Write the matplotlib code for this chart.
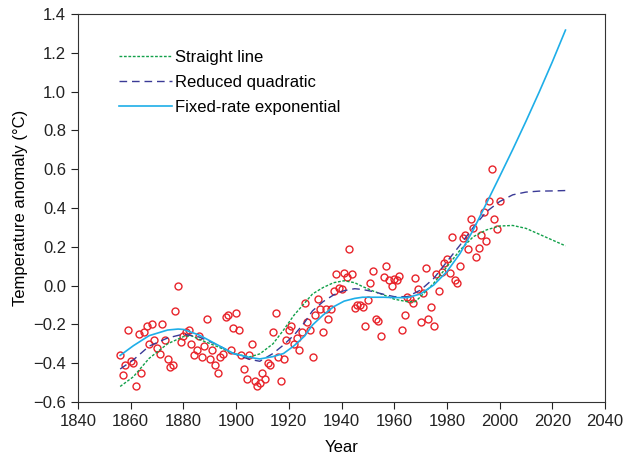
import matplotlib
matplotlib.use("Agg")
import matplotlib.pyplot as plt

plt.rcParams['font.family'] = ['Liberation Sans', 'DejaVu Sans']

# Observed annual temperature anomalies (deg C)
obs_years = list(range(1856, 2001))
obs_values = [
    -0.36, -0.46, -0.41, -0.23,
    -0.39, -0.40, -0.52, -0.25, -0.45, -0.24, -0.21, -0.30, -0.20, -0.28,
    -0.32, -0.35, -0.20, -0.28, -0.38, -0.42, -0.41, -0.13, 0.00, -0.29,
    -0.26, -0.24, -0.23, -0.30, -0.36, -0.33, -0.26, -0.37, -0.31, -0.17,
    -0.38, -0.33, -0.41, -0.45, -0.37, -0.35, -0.16, -0.15, -0.33, -0.22,
    -0.14, -0.23, -0.36, -0.43, -0.48, -0.36, -0.30, -0.49, -0.52, -0.50,
    -0.45, -0.48, -0.40, -0.41, -0.24, -0.14, -0.37, -0.49, -0.38, -0.28,
    -0.23, -0.21, -0.30, -0.27, -0.33, -0.24, -0.09, -0.19, -0.23, -0.37,
    -0.15, -0.07, -0.12, -0.24, -0.12, -0.17, -0.12, -0.03, 0.06, -0.01,
    -0.02, 0.065, 0.046, 0.19, 0.06, -0.115, -0.10, -0.10, -0.11, -0.21,
    -0.074, 0.012, 0.075, -0.17, -0.18, -0.26, 0.044, 0.10, 0.03, -0.004,
    0.036, 0.03, 0.05, -0.23, -0.15, -0.06, -0.07, -0.09, 0.04, -0.02,
    -0.19, -0.04, 0.09, -0.17, -0.11, -0.21, 0.06, -0.03, 0.07, 0.115,
    0.137, 0.063, 0.25, 0.03, 0.012, 0.10, 0.245, 0.26, 0.19, 0.345,
    0.295, 0.147, 0.195, 0.26, 0.38, 0.23, 0.436, 0.60, 0.343, 0.293,
    0.437,
]

# Fitted curves
line_years = [1856, 1861, 1867, 1874, 1880, 1883, 1886, 1893, 1899, 1905, 1909,
              1914, 1918, 1922, 1926, 1929, 1933, 1937, 1941, 1945, 1948, 1952,
              1956, 1960, 1965, 1968, 1970, 1975, 1980, 1985, 1990, 1995, 2000,
              2005, 2010, 2015, 2020, 2025]
line_values = [-0.52, -0.47, -0.375, -0.30, -0.263, -0.258, -0.277, -0.315, -0.35,
               -0.368, -0.352, -0.30, -0.229, -0.152, -0.09, -0.043, -0.01, 0.015,
               0.025, 0.015, -0.005, -0.028, -0.048, -0.07, -0.083, -0.083, -0.057,
               0.012, 0.097, 0.183, 0.252, 0.287, 0.307, 0.31, 0.295, 0.265, 0.235,
               0.205]

quad_years = [1856, 1861, 1867, 1874, 1880, 1886, 1893, 1899, 1905, 1909, 1914,
              1918, 1922, 1926, 1929, 1933, 1937, 1941, 1945, 1948, 1952, 1956,
              1960, 1965, 1970, 1975, 1980, 1985, 1990, 1995, 2000, 2005, 2010,
              2015, 2020, 2025]
quad_values = [-0.43, -0.383, -0.312, -0.27, -0.25, -0.265, -0.306, -0.35, -0.38,
               -0.39, -0.35, -0.306, -0.255, -0.19, -0.13, -0.083, -0.048, -0.026,
               -0.016, -0.02, -0.031, -0.045, -0.057, -0.057, -0.023, 0.037, 0.123,
               0.209, 0.30, 0.381, 0.433, 0.468, 0.482, 0.487, 0.488, 0.49]

exp_years = [1856, 1861, 1867, 1874, 1878, 1880, 1886, 1893, 1899, 1905, 1909,
             1914, 1918, 1922, 1926, 1929, 1933, 1937, 1941, 1945, 1948, 1952,
             1956, 1960, 1965, 1970, 1975, 1980, 1985, 1990, 1995, 2000, 2005,
             2010, 2015, 2020, 2025]
exp_values = [-0.36, -0.31, -0.258, -0.229, -0.224, -0.226, -0.255, -0.306, -0.35,
              -0.37, -0.378, -0.366, -0.35, -0.31, -0.26, -0.203, -0.152, -0.109,
              -0.08, -0.066, -0.06, -0.06, -0.06, -0.062, -0.062, -0.043, 0.003,
              0.072, 0.166, 0.287, 0.424, 0.562, 0.702, 0.847, 0.997, 1.153, 1.317]

x_ticks = list(range(1840, 2041, 20))
y_ticks = [-0.6, -0.4, -0.2, 0.0, 0.2, 0.4, 0.6, 0.8, 1.0, 1.2, 1.4]

fig = plt.figure(figsize=(6.3, 4.55), dpi=100)
ax = fig.add_axes([78 / 630, 1 - 402 / 455, (605 - 78) / 630, (402 - 14) / 455])

ax.plot(obs_years, obs_values, linestyle='none', marker='o', markersize=5,
        markerfacecolor='none', markeredgecolor='#e8242b', markeredgewidth=1.0,
        zorder=2)

ax.plot(line_years, line_values, color='#12a04a', linewidth=1.0,
        linestyle=(0, (2.0, 1.2)), label='Straight line', zorder=3)
ax.plot(quad_years, quad_values, color='#3a3a96', linewidth=1.0,
        linestyle=(0, (5.5, 3.5)), label='Reduced quadratic', zorder=3)
ax.plot(exp_years, exp_values, color='#1eaee8', linewidth=1.2,
        linestyle='-', label='Fixed-rate exponential', zorder=3)

ax.set_xlim(1840, 2040)
ax.set_ylim(-0.6, 1.4)
ax.set_xticks(x_ticks)
ax.set_yticks(y_ticks)
ax.set_yticklabels([f"{v:.1f}".replace('-', '\u2212') for v in y_ticks])
ax.tick_params(direction='out', length=5, width=0.8, labelsize=12,
               colors='#222222', top=False, right=False)
for s in ax.spines.values():
    s.set_linewidth(0.8)
    s.set_color('#333333')

ax.set_xlabel('Year', fontsize=12, labelpad=8)
ax.set_ylabel('Temperature anomaly (\u00b0C)', fontsize=12, labelpad=4)

leg = ax.legend(loc='upper left', bbox_to_anchor=(0.065, 0.925), frameon=False,
                fontsize=12, handlelength=3.2, handletextpad=0.15,
                labelspacing=0.6, borderaxespad=0)

fig.savefig('out.png', dpi=100)
